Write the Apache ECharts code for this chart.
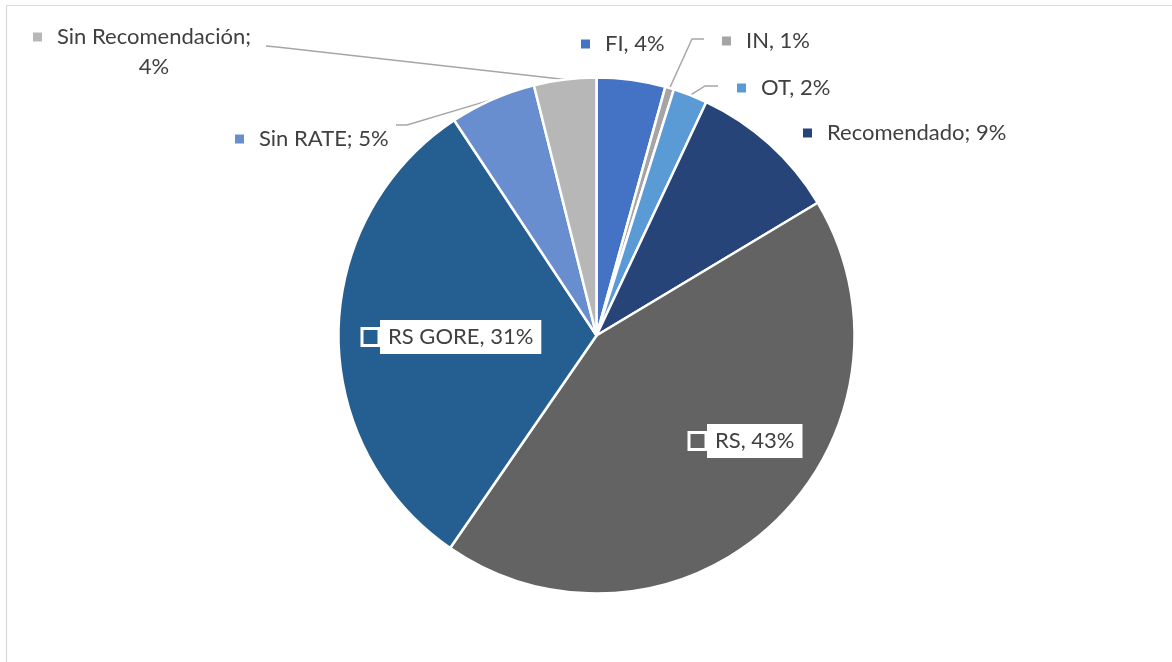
<!DOCTYPE html>
<html>
<head>
<meta charset="utf-8">
<script src="https://cdn.jsdelivr.net/npm/echarts@6/dist/echarts.min.js"></script>
<style>
html,body{margin:0;padding:0;background:#ffffff;}
#chart{width:1172px;height:662px;}
</style>
</head>
<body>
<div id="chart"></div>
<script>
// ---- data ----
const categories = ['FI', 'IN', 'OT', 'Recomendado', 'RS', 'RS GORE', 'Sin RATE', 'Sin Recomendación'];
const values = [4.3, 0.55, 2.15, 9.4, 43.2, 31.1, 5.4, 3.9];
const separators = [', ', ', ', ', ', '; ', ', ', ', ', '; ', '; '];

// ---- styles / layout ----
const colors = ['#4472C4', '#A5A5A5', '#5B9BD5', '#264478', '#636363', '#255E91', '#698ED0', '#B7B7B7'];
const insideLabel = { 'RS': true, 'RS GORE': true };
const twoLine = { 'Sin Recomendación': true };
const withLine = { 'IN': true, 'OT': true, 'Sin RATE': true, 'Sin Recomendación': true };
// label anchor (left edge, vertical middle) and leader-line elbow / end near label
const labelPlace = {
  'FI': { x: 581, y: 44 },
  'IN': { x: 722, y: 41, elbow: [692, 39], end: [704, 39] },
  'OT': { x: 737, y: 88, elbow: [705, 86], end: [718, 86] },
  'Recomendado': { x: 803, y: 133 },
  'RS': { x: 690.5, y: 441 },
  'RS GORE': { x: 363.5, y: 337 },
  'Sin RATE': { x: 235, y: 139, elbow: [407, 125], end: [396, 125] },
  'Sin Recomendación': { x: 33, y: 52, elbow: [277, 47], end: [266, 46] }
};

const FONT = 'Lato';
const FS = 22;
const TXT = '#404040';

const data = categories.map((name, i) => {
  const c = colors[i];
  const inside = !!insideLabel[name];
  const rich = inside ? {
    sq: { width: 14, height: 14, backgroundColor: c, borderColor: '#ffffff', borderWidth: 3 },
    gap: { width: 2.5 },
    t: { fontFamily: FONT, fontSize: FS, color: TXT, lineHeight: 25, backgroundColor: '#ffffff', padding: [6, 8, 6, 8] }
  } : {
    sq: { width: 9, height: 9, backgroundColor: c },
    gap: { width: 15 },
    t: { fontFamily: FONT, fontSize: FS, color: TXT, lineHeight: 30 },
    sp2: { width: 24, align: 'center', lineHeight: 30 },
    t2: { fontFamily: FONT, fontSize: FS, color: TXT, lineHeight: 30, align: 'center' }
  };
  return {
    name: name,
    value: values[i],
    itemStyle: { color: c },
    label: {
      position: inside ? 'inside' : 'outside',
      rich: rich,
      formatter: function (p) {
        const pct = Math.round(p.percent) + '%';
        const sep = separators[p.dataIndex];
        if (twoLine[p.name]) {
          return '{sq|}{gap|}{t|' + p.name + sep.trim() + '}\n{sp2|}{t2|' + pct + '}';
        }
        return '{sq|}{gap|}{t|' + p.name + sep + pct + '}';
      }
    },
    labelLine: {
      show: !!withLine[name],
      lineStyle: { color: '#A6A6A6', width: 1.4 }
    }
  };
});

const chart = echarts.init(document.getElementById('chart'), null, { renderer: 'canvas' });
chart.setOption({
  animation: false,
  backgroundColor: '#ffffff',
  graphic: [{
    type: 'rect',
    shape: { x: 6.5, y: 5.5, width: 1300, height: 800 },
    style: { fill: 'none', stroke: '#D9D9D9', lineWidth: 1.2 },
    silent: true, z: -10
  }],
  series: [{
    type: 'pie',
    center: [596.5, 335.5],
    radius: 258,
    startAngle: 90,
    clockwise: true,
    avoidLabelOverlap: false,
    minShowLabelAngle: 0,
    itemStyle: { borderColor: '#ffffff', borderWidth: 2.5 },
    label: { show: true },
    emphasis: { disabled: true },
    labelLayout: function (params) {
      const name = categories[params.dataIndex];
      const pl = labelPlace[name];
      const out = { x: pl.x, y: pl.y, align: 'left', verticalAlign: 'middle' };
      if (pl.elbow && params.labelLinePoints) {
        const p0 = params.labelLinePoints[0];
        out.labelLinePoints = [[p0[0], p0[1]], pl.elbow, pl.end];
      }
      return out;
    },
    data: data
  }]
});
</script>
</body>
</html>
